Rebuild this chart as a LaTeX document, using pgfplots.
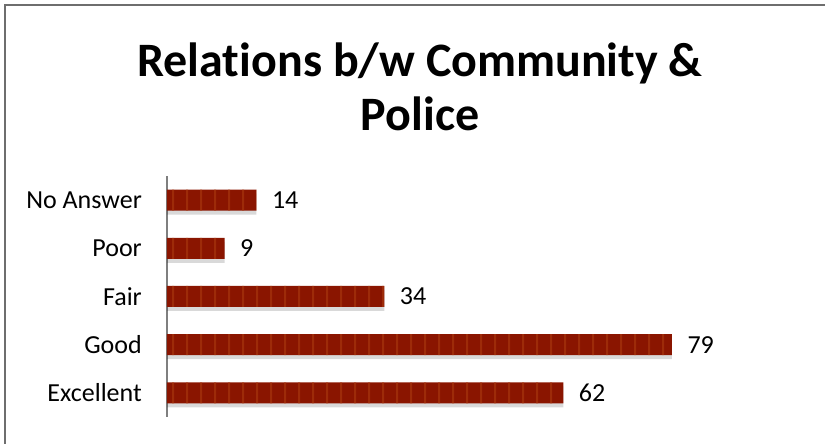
\documentclass[border=0pt]{standalone}
\usepackage{pgfplots}
\pgfplotsset{compat=1.18}
\usepackage{fontspec}
\setmainfont[Ligatures=NoCommon]{Carlito}
\usetikzlibrary{patterns.meta}
\definecolor{barred}{HTML}{8A1500}
\definecolor{stripe}{HTML}{A8380E}
\definecolor{framegray}{HTML}{6E6E6E}
\definecolor{axisgray}{HTML}{7F7F7F}
\pgfdeclarepattern{
  name=vstripes, type=uncolored,
  bottom left={\pgfpoint{0pt}{0pt}},
  top right={\pgfpoint{14.4pt}{1pt}},
  tile size={\pgfpoint{14.4pt}{1pt}},
  code={\pgfpathrectangle{\pgfpoint{0pt}{0pt}}{\pgfpoint{2.2pt}{1pt}}\pgfusepath{fill}}
}
\pgfplotstableread{
y val
0 62
1 79
2 34
3 9
4 14
}\datatab
\begin{document}
\begin{tikzpicture}[x=1pt,y=1pt]
\useasboundingbox (0,0) rectangle (825,444);
\draw[framegray, line width=2.2pt] (5,0) -- (5,439) -- (825,439);
\node[font=\fontsize{48}{54}\selectfont\bfseries, align=center] at (420,357) {Relat\kern0pt ions b/w Community \&\\Police};
\begin{axis}[
  at={(167pt,27pt)}, anchor=south west,
  scale only axis, width=639.2pt, height=241pt,
  xmin=0, xmax=100, ymin=-0.5, ymax=4.5,
  axis x line=none,
  axis y line*=left,
  y axis line style={axisgray, line width=2pt, -},
  ytick={0,1,2,3,4},
  yticklabels={Excellent,Good,Fair,Poor,No Answer},
  major tick length=0pt,
  yticklabel style={font=\fontsize{26}{28}\selectfont, anchor=east, inner sep=0pt},
  yticklabel shift=25pt,
  clip=false,
  /pgf/number format/assume math mode=true,
]
\addplot[xbar, bar width=21pt, bar shift=-4pt, fill=black, fill opacity=0.15, draw=none, forget plot] table[x=val,y=y] {\datatab};
\addplot[xbar, bar width=21pt, fill=barred, draw=none,
  postaction={pattern={vstripes}, pattern color=stripe},
  nodes near coords, nodes near coords align={horizontal},
  every node near coord/.append style={font=\fontsize{26}{28}\selectfont, black, xshift=12pt}
] table[x=val,y=y] {\datatab};
\end{axis}
\end{tikzpicture}
\end{document}
